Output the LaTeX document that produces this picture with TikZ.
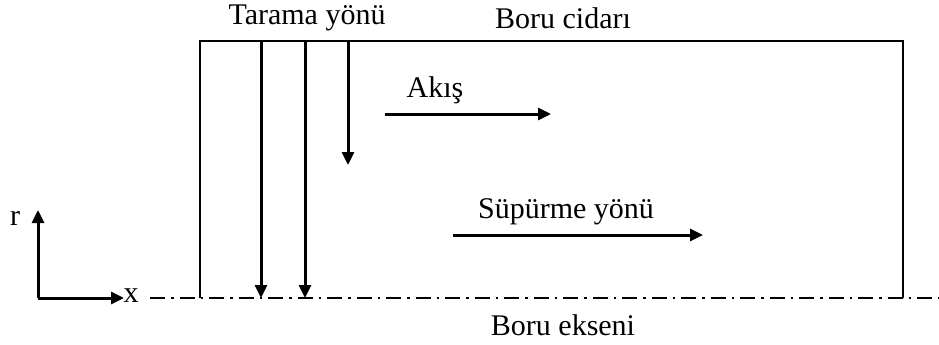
\documentclass[tikz,border=0pt]{standalone}
\usepackage{fontspec}
\setmainfont{Liberation Serif}
\usetikzlibrary{arrows.meta}
\begin{document}
\begin{tikzpicture}[x=1pt,y=-1pt,
  lbl/.style={font=\fontsize{30}{35}\selectfont, inner sep=0pt},
  wall/.style={line width=2.6pt},
  arr/.style={line width=3pt, -{Triangle[length=13pt,width=12pt]}},
  axisline/.style={line width=2.4pt, dash pattern=on 15pt off 6pt on 2.5pt off 6pt}]
\useasboundingbox (0,0) rectangle (939,345);
% pipe wall
\coordinate (bl) at (200,298);
\coordinate (tl) at (200,41);
\coordinate (tr) at (903,41);
\coordinate (br) at (903,298);
\draw[wall] (bl) -- (tl) -- (tr) -- (br);
% centre line
\coordinate (ax1) at (150,298);
\coordinate (ax2) at (939,298);
\draw[axisline] (ax1) -- (ax2);
% scan lines
\coordinate (s1t) at (261,41); \coordinate (s1b) at (261,298);
\coordinate (s2t) at (305,41); \coordinate (s2b) at (305,298);
\coordinate (s3t) at (348,41); \coordinate (s3b) at (348,165);
\draw[arr] (s1t) -- (s1b);
\draw[arr] (s2t) -- (s2b);
\draw[arr] (s3t) -- (s3b);
% flow arrows
\coordinate (f1) at (385,114); \coordinate (f2) at (551,114);
\draw[arr] (f1) -- (f2);
\coordinate (w1) at (453,235); \coordinate (w2) at (703,235);
\draw[arr] (w1) -- (w2);
% axes
\coordinate (o) at (38,298);
\coordinate (ry) at (38,210);
\coordinate (rx) at (124,298);
\draw[arr] (o) -- (ry);
\draw[arr] (o) -- (rx);
% labels
\node[lbl] (tarama) at (307,18) {Tarama yönü};
\node[lbl] (cidar) at (563,18) {Boru cidarı};
\node[lbl] (akis) at (435,90) {Akış};
\node[lbl] (supurme) at (566,212) {Süpürme yönü};
\node[lbl] (eksen) at (563,325) {Boru ekseni};
\node[lbl] (rlab) at (15,218) {r};
\node[lbl] (xlab) at (131,296) {x};
\end{tikzpicture}
\end{document}
